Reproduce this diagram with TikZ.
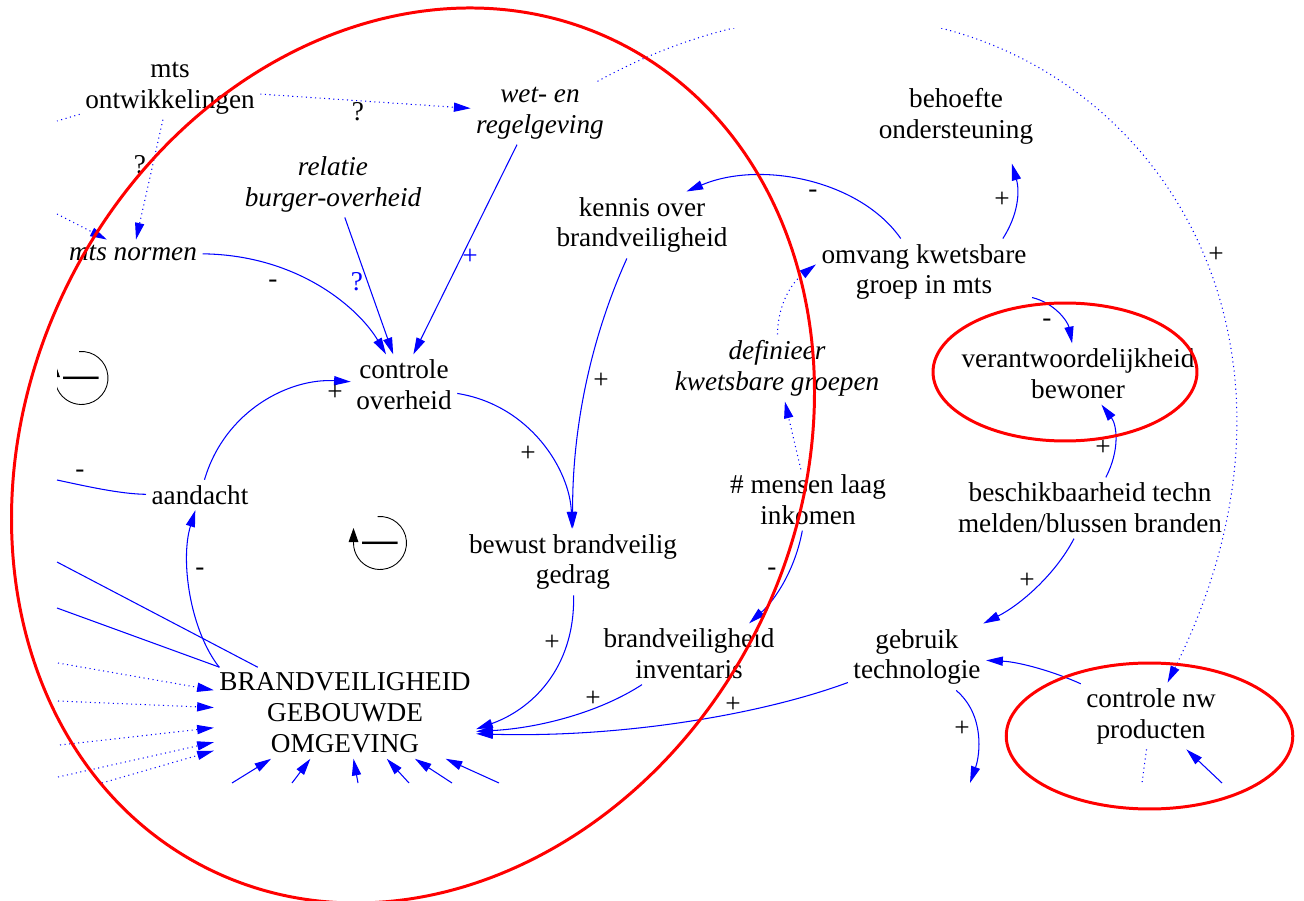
\documentclass[tikz,border=0pt]{standalone}
\usepackage{fontspec}
\setmainfont{Liberation Serif}
\usetikzlibrary{arrows.meta}
\definecolor{linkBlue}{HTML}{0000FF}
\definecolor{ringRed}{HTML}{FF0000}

\begin{document}
\begin{tikzpicture}[
  x=0.02cm, y=-0.02cm,
  every node/.style={text=black},
  var/.style={align=center, inner sep=3pt, font=\fontsize{15.5}{17.6}\selectfont},
  varit/.style={var, font=\fontsize{15.5}{17.6}\selectfont\itshape},
  pol/.style={inner sep=0pt, font=\fontsize{15.5}{17.6}\selectfont},
  polblue/.style={pol, text=linkBlue},
  cause/.style={-{Triangle[length=9.5pt,width=5.2pt]}, line width=0.6pt, draw=linkBlue},
  causebare/.style={line width=0.6pt, draw=linkBlue},
  causedot/.style={cause, dotted},
  causedotbare/.style={causebare, dotted},
  loopar/.style={-{Triangle[length=8pt,width=5.5pt]}, line width=0.5pt, draw=black},
  loopsign/.style={inner sep=0pt, font=\fontsize{20}{20}\selectfont\bfseries},
  redring/.style={draw=ringRed, line width=1.7pt},
]
\useasboundingbox (0,0) rectangle (1304,901);

% ---------------- NODES (absolute grid, px) ----------------
\node[var] (mtsdev) at (170,88) {mts\\ontwikkelingen};
\node[varit] (wet) at (540,113) {wet- en\\regelgeving};
\node[varit] (relatie) at (333,184) {relatie\\burger-overheid};
\node[varit] (mtsnorm) at (133,253) {mts normen};
\node[var] (ctrl) at (404,385) {controle\\overheid};
\node[var] (aandacht) at (200,495) {aandacht};
\node[var] (kennis) at (642,225) {kennis over\\brandveiligheid};
\node[var] (behoefte) at (956,116) {behoefte\\ondersteuning};
\node[var] (omvang) at (924,272) {omvang kwetsbare\\groep in mts};
\node[varit] (definieer) at (777,368) {definieer\\kwetsbare groepen};
\node[var] (verantw) at (1078,374) {verantwoordelijkheid\\bewoner};
\node[var] (laaginkomen) at (808,500) {\# mensen laag\\inkomen};
\node[var] (beschik) at (1090,508) {beschikbaarheid techn\\melden/blussen branden};
\node[var] (bewust) at (573,562) {bewust brandveilig\\gedrag};
\node[var] (inventaris) at (689,654) {brandveiligheid\\inventaris};
\node[var] (gebruik) at (917,657) {gebruik\\technologie};
\node[var] (ctrlnw) at (1151,716) {controle nw\\producten};
\node[var] (brand) at (345,713) {BRANDVEILIGHEID\\GEBOUWDE\\OMGEVING};

% loop markers
\node[loopsign] (loopL) at (81,382) {---};
\node[loopsign] (loopR) at (380,547) {---};
\begin{scope}
  \clip (57,0) rectangle (1304,901);
  \draw[loopar] (81.5,378) ++(95:0.53cm) arc[start angle=95, end angle=-180, radius=0.53cm] -- ++(0,-15);
\end{scope}
\draw[loopar] (380,543) ++(95:0.53cm) arc[start angle=95, end angle=-180, radius=0.53cm] -- ++(0,-15);

% free ends where the view is cut off
\coordinate (cutMtsdev) at (57,121);
\coordinate (inMtsnorm) at (57,214);
\coordinate (cutAandacht) at (57,480);
\coordinate (cutBrandA) at (57,562);
\coordinate (cutBrandB) at (57,608);
\coordinate (inLeftA) at (58,663);
\coordinate (inLeftB) at (58,701);
\coordinate (inLeftC) at (60,745);
\coordinate (inLeftD) at (58,777);
\coordinate (inLeftE) at (102,783);
\coordinate (inBotA) at (232,783);
\coordinate (inBotB) at (292,783);
\coordinate (inBotC) at (358,783);
\coordinate (inBotD) at (409,783);
\coordinate (inBotE) at (452,783);
\coordinate (inBotF) at (499,783);
\coordinate (outGebruik) at (970,783);
\coordinate (inCtrlnw) at (1222,783);
\coordinate (outCtrlnw) at (1142,783);

% ---------------- EDGES ----------------
% top left
\draw[causedotbare] (mtsdev) -- (cutMtsdev);
\draw[causedot] (inMtsnorm) -- (mtsnorm);
\draw[causedot] (mtsdev) -- (mtsnorm);
\node[pol] (pq1) at (140,165) {?};
\draw[causedot] (mtsdev) -- (wet);
\node[pol] (pq2) at (358,112) {?};

% into controle overheid
\draw[cause] (mtsnorm) .. controls (300,255) and (360,310) .. (ctrl);
\node[pol] (pm1) at (273,284) {-};
\draw[cause] (relatie) -- (ctrl);
\node[polblue] (pq3) at (357,282) {?};
\draw[cause] (wet.-126) -- (ctrl.73);
\node[polblue] (pp1) at (470,257) {+};
\draw[cause] (aandacht) .. controls (225,410) and (290,378) .. (ctrl);
\node[pol] (pp2) at (335,393) {+};

% aandacht loop
\draw[causebare] (aandacht) .. controls (120,494) and (85,486) .. (cutAandacht);
\node[pol] (pm2) at (80,474) {-};
\draw[cause] (brand.160) .. controls (190,630) and (180,560) .. (aandacht);
\node[pol] (pm3) at (200,572) {-};

% left side of BRANDVEILIGHEID
\draw[causebare] (brand) -- (cutBrandA);
\draw[causebare] (brand) -- (cutBrandB);
\draw[causedot] (inLeftA) -- (brand);
\draw[causedot] (inLeftB) -- (brand);
\draw[causedot] (inLeftC) -- (brand);
\draw[causedot] (inLeftD) -- (brand);
\draw[causedot] (inLeftE) -- (brand);
\draw[cause] (inBotA) -- (brand);
\draw[cause] (inBotB) -- (brand);
\draw[cause] (inBotC) -- (brand);
\draw[cause] (inBotD) -- (brand);
\draw[cause] (inBotE) -- (brand);
\draw[cause] (inBotF) -- (brand);

% behaviour chain
\draw[cause] (ctrl) .. controls (530,405) and (570,470) .. (bewust);
\node[pol] (pp3) at (528,454) {+};
\draw[cause] (kennis) .. controls (590,340) and (572,430) .. (bewust);
\node[pol] (pp4) at (601,381) {+};
\draw[cause] (bewust) .. controls (575,670) and (530,710) .. (brand.-7);
\node[pol] (pp5) at (552,643) {+};
\draw[cause] (inventaris) .. controls (600,712) and (540,728) .. (brand.-8);
\node[pol] (pp6) at (593,699) {+};
\draw[cause] (gebruik) .. controls (760,715) and (620,738) .. (brand.-9);
\node[pol] (pp7) at (733,705) {+};

% vulnerable groups
\draw[cause] (omvang) .. controls (860,180) and (760,160) .. (kennis.37);
\node[pol] (pm4) at (813,194) {-};
\draw[cause] (omvang.23) .. controls (1018,215) and (1020,192) .. ([yshift=-8pt]behoefte.-31);
\node[pol] (pp8) at (1002,200) {+};
\draw[cause] (omvang) .. controls (1055,303) and (1068,322) .. (verantw);
\node[pol] (pm5) at (1047,323) {-};
\draw[causedot] (laaginkomen) -- (definieer);
\draw[causedot] (definieer) .. controls (778,300) and (795,280) .. (omvang.176);
\draw[cause] (laaginkomen) .. controls (795,570) and (775,600) .. (inventaris.27);
\node[pol] (pm6) at (772,572) {-};

% technology
\draw[cause] (beschik) .. controls (1120,450) and (1117,425) .. (verantw);
\node[pol] (pp9) at (1103,448) {+};
\draw[cause] (beschik) .. controls (1055,575) and (1020,605) .. (gebruik);
\node[pol] (pp10) at (1027,581) {+};
\draw[cause] (ctrlnw) .. controls (1055,672) and (1020,662) .. (gebruik);
\draw[cause] (gebruik) .. controls (985,715) and (980,755) .. (outGebruik);
\node[pol] (pp11) at (962,729) {+};
\draw[cause] (inCtrlnw) -- (ctrlnw);
\draw[causedotbare] (ctrlnw) -- (outCtrlnw);

% long dotted link, cut off at the top
\begin{scope}
  \clip (0,29) rectangle (1304,901);
  \draw[causedot] (wet) .. controls (1000,-140) and (1392,232) .. (ctrlnw);
\end{scope}
\node[pol] (pp12) at (1216,255) {+};

% ---------------- RED RINGS (on top) ----------------
\draw[redring, rotate around={-26.3:(413,455.5)}] (413,455.5) ellipse [x radius=7.71cm, y radius=9.228cm];
\draw[redring] (1065,372) ellipse [x radius=2.64cm, y radius=1.38cm];
\draw[redring] (1149.5,736) ellipse [x radius=2.866cm, y radius=1.46cm];
\end{tikzpicture}
\end{document}
